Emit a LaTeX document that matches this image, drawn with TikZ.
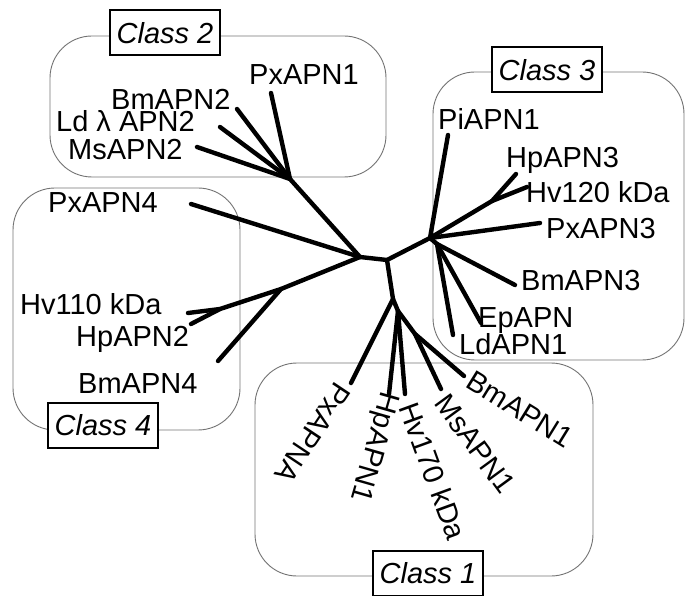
\documentclass[tikz,border=0pt]{standalone}
\usepackage{fontspec}
\setmainfont{Liberation Sans}
\begin{document}
\begin{tikzpicture}[x=1pt,y=-1pt,
  br/.style={line width=4.4pt, line cap=round, line join=round},
  clbox/.style={draw=black!55, line width=0.9pt, rounded corners=42pt},
  lab/.style={font=\fontsize{29}{33}\selectfont, inner sep=0pt},
  cls/.style={draw, line width=2pt, fill=white, font=\fontsize{29}{33}\selectfont\itshape, minimum width=110pt, minimum height=45pt, inner sep=0pt}]
\useasboundingbox (0,0) rectangle (686,596);
% class boxes
\draw[clbox] (50,36) rectangle (386,177);
\draw[clbox] (433,72) rectangle (684,360);
\draw[clbox] (13,188) rectangle (240,430);
\draw[clbox] (255,363) rectangle (593,576);
% inner nodes
\coordinate (A) at (360,257);
\coordinate (B) at (387,260);
\coordinate (C2) at (290,179);
\coordinate (K4) at (281,289);
\coordinate (K5) at (220,309);
\coordinate (C3) at (430,238);
\coordinate (K3) at (492,201);
\coordinate (D3) at (437,244);
\coordinate (F) at (393,299);
\coordinate (G) at (398,311);
\coordinate (H) at (415,334);
% leaf ends
\coordinate (ePxAPN1) at (271,93);
\coordinate (eBmAPN2) at (237,109);
\coordinate (eLdAPN2) at (220,127);
\coordinate (eMsAPN2) at (197,147);
\coordinate (ePxAPN4) at (191,204);
\coordinate (eHv110) at (188,313);
\coordinate (eHpAPN2) at (191,324);
\coordinate (eBmAPN4) at (218,361);
\coordinate (ePiAPN1) at (448,135);
\coordinate (eHpAPN3) at (516,174);
\coordinate (eHv120) at (527,187);
\coordinate (ePxAPN3) at (540,223);
\coordinate (eBmAPN3) at (515,285);
\coordinate (eEpAPN) at (481,323);
\coordinate (eLdAPN1) at (453,335);
\coordinate (ePxAPNA) at (351,383);
\coordinate (eHpAPN1) at (389,394);
\coordinate (eHv170) at (405,394);
\coordinate (eMsAPN1) at (441,389);
\coordinate (eBmAPN1) at (464,376);
% tree
\draw[br] (C2) -- (A) -- (B) -- (C3);
\draw[br] (C2) -- (ePxAPN1);
\draw[br] (C2) -- (eBmAPN2);
\draw[br] (C2) -- (eLdAPN2);
\draw[br] (C2) -- (eMsAPN2);
\draw[br] (A) -- (ePxAPN4);
\draw[br] (A) -- (K4) -- (K5) -- (eHv110);
\draw[br] (K5) -- (eHpAPN2);
\draw[br] (K4) -- (eBmAPN4);
\draw[br] (C3) -- (ePiAPN1);
\draw[br] (C3) -- (K3) -- (eHpAPN3);
\draw[br] (K3) -- (eHv120);
\draw[br] (C3) -- (ePxAPN3);
\draw[br] (C3) -- (D3) -- (eBmAPN3);
\draw[br] (D3) -- (eEpAPN);
\draw[br] (D3) -- (eLdAPN1);
\draw[br] (B) -- (F) -- (ePxAPNA);
\draw[br] (F) -- (G) -- (H) -- (eBmAPN1);
\draw[br] (G) -- (eHpAPN1);
\draw[br] (G) -- (eHv170);
\draw[br] (H) -- (eMsAPN1);
% labels class 2
\node[lab, anchor=base west] (tPxAPN1) at (249,85) {PxAPN1};
\node[lab, anchor=base west] (tBmAPN2) at (111,110) {BmAPN2};
\node[lab, anchor=base west] (tLdAPN2) at (56,132) {Ld λ APN2};
\node[lab, anchor=base west] (tMsAPN2) at (68,160) {MsAPN2};
% class 4
\node[lab, anchor=base west] (tPxAPN4) at (48,213) {PxAPN4};
\node[lab, anchor=base west] (tHv110) at (20,315) {Hv110 kDa};
\node[lab, anchor=base west] (tHpAPN2) at (76,347) {HpAPN2};
\node[lab, anchor=base west] (tBmAPN4) at (78,393) {BmAPN4};
% class 3
\node[lab, anchor=base west] (tPiAPN1) at (438,130) {PiAPN1};
\node[lab, anchor=base west] (tHpAPN3) at (506,168) {HpAPN3};
\node[lab, anchor=base west] (tHv120) at (526,203) {Hv120 kDa};
\node[lab, anchor=base west] (tPxAPN3) at (546,239) {PxAPN3};
\node[lab, anchor=base west] (tBmAPN3) at (521,291) {BmAPN3};
\node[lab, anchor=base west] (tEpAPN) at (478,327) {EpAPN};
\node[lab, anchor=base west] (tLdAPN1) at (459,355) {LdAPN1};
% class 1 (rotated)
\node[lab, rotate=-123.7] (tPxAPNA) at (313,433) {PxAPNA};
\node[lab, rotate=-106] (tHpAPN1) at (373,447) {HpAPN1};
\node[lab, rotate=-70] (tHv170) at (433,471) {Hv170 kDa};
\node[lab, rotate=-53.8] (tMsAPN1) at (475,444) {MsAPN1};
\node[lab, rotate=-31.7] (tBmAPN1) at (520,409) {BmAPN1};
% class labels
\node[cls] (cl2) at (165,33) {Class 2};
\node[cls] (cl3) at (547,70) {Class 3};
\node[cls] (cl4) at (103,425) {Class 4};
\node[cls] (cl1) at (428,573) {Class 1};
\end{tikzpicture}
\end{document}
